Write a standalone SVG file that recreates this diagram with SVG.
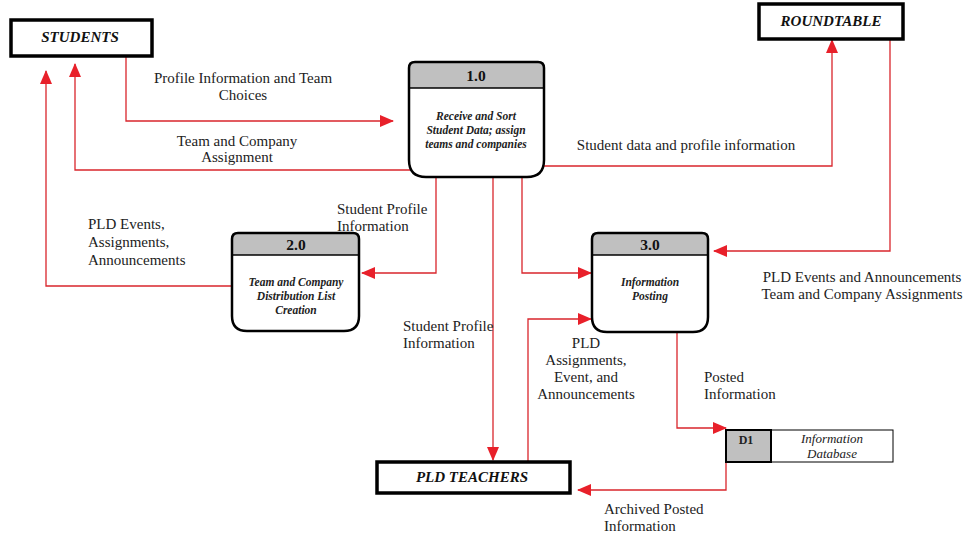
<svg xmlns="http://www.w3.org/2000/svg" width="965" height="540" viewBox="0 0 965 540">
<defs>
<style>
text{font-family:'Liberation Serif','Times New Roman','DejaVu Serif',serif}
.lbl{font-size:15px;fill:#222}
.ent{font-size:15px;font-weight:bold;font-style:italic;fill:#111}
.num{font-size:15.5px;font-weight:bold;fill:#111}
.ptxt{font-size:11.5px;font-weight:bold;font-style:italic;fill:#222}
.box{fill:#fff;stroke:#000;stroke-width:3.5}
.pbg{fill:#fff}
.proc{fill:none;stroke:#000;stroke-width:2.5}
.hdr{fill:#c0c0c0}
.flow{fill:none;stroke:#d9262c;stroke-width:1.3;marker-end:url(#ah)}
</style>
<marker id="ah" markerWidth="14" markerHeight="12" refX="13" refY="6" orient="auto" markerUnits="userSpaceOnUse">
<path d="M0,0 L14,6 L0,12 Z" fill="#e8202a"/>
</marker>
</defs>
<rect width="965" height="540" fill="#fff"/>

<g id="connectors">
<path class="flow" d="M126,57 V121 H393"/>
<path class="flow" d="M410,170 H75 V64"/>
<path class="flow" d="M233,286 H46 V71"/>
<path class="flow" d="M544,166 H832 V40"/>
<path class="flow" d="M890,39 V251 H714"/>
<path class="flow" d="M436,177 V273 H362"/>
<path class="flow" d="M493,177 V460"/>
<path class="flow" d="M522,177 V273 H591"/>
<path class="flow" d="M528,461 V319 H591"/>
<path class="flow" d="M677,332 V428 H726"/>
<path class="flow" d="M726,462 V490 H578"/>
</g>

<g id="students">
<rect class="box" x="11" y="20" width="141" height="36"/>
<text class="ent" x="80" y="42" text-anchor="middle">STUDENTS</text>
</g>

<g id="roundtable">
<rect class="box" x="759" y="4" width="144" height="35"/>
<text class="ent" x="831" y="26" text-anchor="middle">ROUNDTABLE</text>
</g>

<g id="pld-teachers">
<rect class="box" x="377" y="462" width="193" height="31"/>
<text class="ent" x="472" y="482" text-anchor="middle">PLD TEACHERS</text>
</g>

<g id="p1">
<path class="pbg" d="M415,62 H538 Q544,62 544,68 V160 Q544,177 527,177 H426 Q409,177 409,160 V68 Q409,62 415,62 Z"/>
<path class="hdr" d="M409,88 V68 Q409,62 415,62 H538 Q544,62 544,68 V88 Z"/>
<path class="proc" d="M415,62 H538 Q544,62 544,68 V160 Q544,177 527,177 H426 Q409,177 409,160 V68 Q409,62 415,62 Z"/>
<line x1="409" y1="88" x2="544" y2="88" stroke="#000" stroke-width="1.5"/>
<text class="num" x="476" y="81" text-anchor="middle">1.0</text>
<text class="ptxt" x="476" y="120" text-anchor="middle">Receive and Sort</text>
<text class="ptxt" x="476" y="134" text-anchor="middle">Student Data; assign</text>
<text class="ptxt" x="476" y="148" text-anchor="middle">teams and companies</text>
</g>

<g id="p2">
<path class="pbg" d="M238,233 H353 Q359,233 359,239 V316 Q359,331 344,331 H247 Q232,331 232,316 V239 Q232,233 238,233 Z"/>
<path class="hdr" d="M232,255 V239 Q232,233 238,233 H353 Q359,233 359,239 V255 Z"/>
<path class="proc" d="M238,233 H353 Q359,233 359,239 V316 Q359,331 344,331 H247 Q232,331 232,316 V239 Q232,233 238,233 Z"/>
<line x1="232" y1="255" x2="359" y2="255" stroke="#000" stroke-width="1.5"/>
<text class="num" x="296" y="250" text-anchor="middle">2.0</text>
<text class="ptxt" x="296" y="286" text-anchor="middle">Team and Company</text>
<text class="ptxt" x="296" y="300" text-anchor="middle">Distribution List</text>
<text class="ptxt" x="296" y="314" text-anchor="middle">Creation</text>
</g>

<g id="p3">
<path class="pbg" d="M598,233 H702 Q708,233 708,239 V317 Q708,332 693,332 H607 Q592,332 592,317 V239 Q592,233 598,233 Z"/>
<path class="hdr" d="M592,255 V239 Q592,233 598,233 H702 Q708,233 708,239 V255 Z"/>
<path class="proc" d="M598,233 H702 Q708,233 708,239 V317 Q708,332 693,332 H607 Q592,332 592,317 V239 Q592,233 598,233 Z"/>
<line x1="592" y1="255" x2="708" y2="255" stroke="#000" stroke-width="1.5"/>
<text class="num" x="650" y="250" text-anchor="middle">3.0</text>
<text class="ptxt" x="650" y="286" text-anchor="middle">Information</text>
<text class="ptxt" x="650" y="300" text-anchor="middle">Posting</text>
</g>

<g id="d1">
<rect x="771" y="430" width="122" height="32" fill="#fff" stroke="#000" stroke-width="1"/>
<rect x="726" y="430" width="45" height="32" fill="#c0c0c0" stroke="#000" stroke-width="2"/>
<text x="746" y="444" text-anchor="middle" style="font-weight:bold;font-size:12px;fill:#222">D1</text>
<text x="832" y="443" text-anchor="middle" style="font-style:italic;font-size:13px;fill:#222">Information</text>
<text x="832" y="458" text-anchor="middle" style="font-style:italic;font-size:13px;fill:#222">Database</text>
</g>

<g id="labels">
<text class="lbl" x="243" y="83" text-anchor="middle">Profile Information and Team</text>
<text class="lbl" x="243" y="100" text-anchor="middle">Choices</text>
<text class="lbl" x="237" y="146" text-anchor="middle">Team and Company</text>
<text class="lbl" x="237" y="162" text-anchor="middle">Assignment</text>
<text class="lbl" x="88" y="229">PLD Events,</text>
<text class="lbl" x="88" y="247">Assignments,</text>
<text class="lbl" x="88" y="265">Announcements</text>
<text class="lbl" x="337" y="214">Student Profile</text>
<text class="lbl" x="337" y="231">Information</text>
<text class="lbl" x="686" y="150" text-anchor="middle">Student data and profile information</text>
<text class="lbl" x="862" y="282" text-anchor="middle">PLD Events and Announcements</text>
<text class="lbl" x="862" y="299" text-anchor="middle">Team and Company Assignments</text>
<text class="lbl" x="403" y="331">Student Profile</text>
<text class="lbl" x="403" y="348">Information</text>
<text class="lbl" x="586" y="348" text-anchor="middle">PLD</text>
<text class="lbl" x="586" y="365" text-anchor="middle">Assignments,</text>
<text class="lbl" x="586" y="382" text-anchor="middle">Event, and</text>
<text class="lbl" x="586" y="399" text-anchor="middle">Announcements</text>
<text class="lbl" x="704" y="382">Posted</text>
<text class="lbl" x="704" y="399">Information</text>
<text class="lbl" x="604" y="514">Archived Posted</text>
<text class="lbl" x="604" y="531">Information</text>
</g>
</svg>
